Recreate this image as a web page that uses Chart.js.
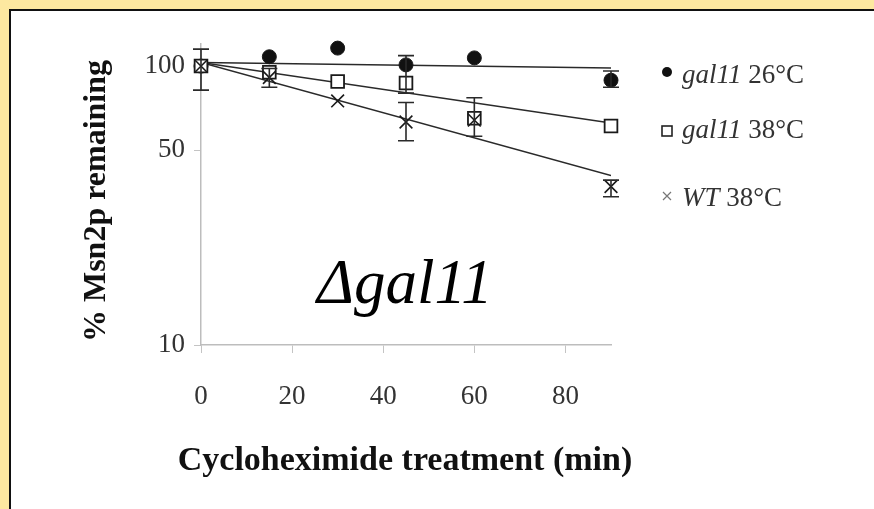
<!DOCTYPE html>
<html>
<head>
<meta charset="utf-8">
<script src="https://cdn.jsdelivr.net/npm/chart.js@4.4.0/dist/chart.umd.min.js"></script>
<style>
  html, body { margin: 0; padding: 0; background: #fde8a0; }
  body { width: 874px; height: 509px; overflow: hidden; position: relative; }
  #panel { position: absolute; left: 9px; top: 9px; width: 865px; height: 500px; box-sizing: border-box;
           border-top: 2px solid #111; border-left: 2px solid #111; background: #fff; }
  #wrap { position: relative; width: 863px; height: 498px; }
</style>
</head>
<body>
<div id="panel"><div id="wrap"><canvas id="decayChart"></canvas></div></div>
<script>
const times = [0, 15, 30, 45, 60, 90];
const gal26 = [100, 108, 116, 101, 107, 89];
const gal38 = [100, 95, 88, 87, 65, 61];
const wt38 = [100, 91, 75, 63, 64, 37];
// error bars as [low, high], null where none is visible
const gal26Err = [null, null, null, null, null, [84, 96]];
const gal38Err = [null, null, null, [80, 109], [56, 77], null];
const wt38Err = [[82, 115], [84, 98], null, [54, 74], null, [34, 39]];
// exponential fits (straight on the log axis), start and end values
const fitX = [0, 90];
const gal26Fit = [103, 98.4];
const gal38Fit = [103, 62.5];
const wt38Fit = [103, 40.5];
const xTicks = [0, 20, 40, 60, 80];
const yTicks = [10, 50, 100];
const legendItalic = ['gal11', 'gal11', 'WT'];
const legendRest = [' 26°C', ' 38°C', ' 38°C'];
const strainLabel = 'Δgal11';
const yTitle = '% Msn2p remaining';
const xTitle = 'Cycloheximide treatment (min)';

const serif = "'Liberation Serif', 'Times New Roman', serif";
const toPoints = (xs, ys) => xs.map((x, i) => ({ x, y: ys[i] }));

const pointSet = (label, values, errors, style) => Object.assign({
    type: 'scatter',
    label,
    data: toPoints(times, values),
    errors,
    borderColor: '#1a1a1a',
    clip: false
}, style);

const fitSet = (values) => ({
    type: 'scatter',
    data: toPoints(fitX, values),
    showLine: true,
    pointRadius: 0,
    borderColor: '#2a2a2a',
    borderWidth: 1.6,
    fill: false,
    order: 4
});

// error bars, drawn through the chart's own scales
const errorBars = {
    id: 'errorBars',
    afterDatasetsDraw(chart) {
        const { ctx, scales: { x, y } } = chart;
        ctx.save();
        ctx.strokeStyle = '#2a2a2a';
        ctx.lineWidth = 1.6;
        chart.data.datasets.forEach(ds => {
            if (!ds.errors) return;
            ds.errors.forEach((e, i) => {
                if (!e) return;
                const px = x.getPixelForValue(times[i]);
                const lo = y.getPixelForValue(e[0]);
                const hi = y.getPixelForValue(e[1]);
                ctx.beginPath();
                ctx.moveTo(px, lo); ctx.lineTo(px, hi);
                ctx.moveTo(px - 8, lo); ctx.lineTo(px + 8, lo);
                ctx.moveTo(px - 8, hi); ctx.lineTo(px + 8, hi);
                ctx.stroke();
            });
        });
        ctx.restore();
    }
};

// axis titles, strain label and the legend with italic gene names
// (titles drawn here because they run wider than the plot area)
const annotations = {
    id: 'annotations',
    afterDraw(chart) {
        const { ctx } = chart;
        ctx.save();
        ctx.fillStyle = '#111';
        ctx.textAlign = 'center';
        ctx.textBaseline = 'alphabetic';
        ctx.font = `bold 34px ${serif}`;
        ctx.fillText(xTitle, 394, 459);
        ctx.font = `bold 32px ${serif}`;
        ctx.translate(94, 190);
        ctx.rotate(-Math.PI / 2);
        ctx.fillText(yTitle, 0, 0);
        ctx.restore();

        ctx.save();
        ctx.fillStyle = '#000';
        ctx.textBaseline = 'alphabetic';
        ctx.textAlign = 'left';
        ctx.font = `italic 63px ${serif}`;
        ctx.fillText(strainLabel, 306, 292);

        const rows = [72, 127, 195];
        const mx = 656;
        ctx.strokeStyle = '#222';
        ctx.fillStyle = '#111';
        ctx.lineWidth = 1.6;
        // filled circle
        ctx.beginPath(); ctx.arc(mx, rows[0] - 11, 5, 0, Math.PI * 2); ctx.fill();
        // open square
        ctx.strokeRect(mx - 5, rows[1] - 12, 10, 10);
        // small cross
        ctx.strokeStyle = '#777';
        ctx.lineWidth = 1.2;
        ctx.beginPath();
        ctx.moveTo(mx - 4, rows[2] - 14); ctx.lineTo(mx + 4, rows[2] - 6);
        ctx.moveTo(mx + 4, rows[2] - 14); ctx.lineTo(mx - 4, rows[2] - 6);
        ctx.stroke();

        ctx.fillStyle = '#333';
        rows.forEach((by, i) => {
            let tx = 671;
            ctx.font = `italic 27px ${serif}`;
            ctx.fillText(legendItalic[i], tx, by);
            tx += ctx.measureText(legendItalic[i]).width;
            ctx.font = `27px ${serif}`;
            ctx.fillText(legendRest[i], tx, by);
        });
        ctx.restore();
    }
};

new Chart(document.getElementById('decayChart'), {
    type: 'scatter',
    data: {
        datasets: [
            pointSet('gal11 26°C', gal26, gal26Err, { pointStyle: 'circle', pointRadius: 7, backgroundColor: '#111', borderWidth: 1, order: 3 }),
            pointSet('gal11 38°C', gal38, gal38Err, { pointStyle: 'rect', pointRadius: 9, backgroundColor: '#fff', borderWidth: 1.8, order: 2 }),
            pointSet('WT 38°C', wt38, wt38Err, { pointStyle: 'crossRot', pointRadius: 9, borderWidth: 1.6, order: 1 }),
            fitSet(gal26Fit),
            fitSet(gal38Fit),
            fitSet(wt38Fit)
        ]
    },
    options: {
        responsive: true,
        maintainAspectRatio: false,
        animation: false,
        layout: { padding: { left: 0, right: 263, top: 33, bottom: 0 } },
        plugins: {
            legend: { display: false },
            tooltip: { enabled: false }
        },
        scales: {
            x: {
                type: 'linear',
                min: 0,
                max: 90,
                afterBuildTicks: s => { s.ticks = xTicks.map(v => ({ value: v })); },
                afterFit: s => { s.height = 164; },
                grid: { drawOnChartArea: false, color: '#c4c4c4', tickLength: 8 },
                border: { color: '#bdbdbd', width: 1.5 },
                ticks: { font: { family: serif, size: 27 }, color: '#333', padding: 28, maxRotation: 0 }
            },
            y: {
                type: 'logarithmic',
                min: 10,
                max: 120,
                afterBuildTicks: s => { s.ticks = yTicks.map(v => ({ value: v })); },
                afterFit: s => { s.width = 190; },
                grid: { drawOnChartArea: false, color: '#c4c4c4', tickLength: 7 },
                border: { color: '#bdbdbd', width: 1.5 },
                ticks: { font: { family: serif, size: 27 }, color: '#333', padding: 9, callback: v => String(v) }
            }
        }
    },
    plugins: [errorBars, annotations]
});
</script>
</body>
</html>
